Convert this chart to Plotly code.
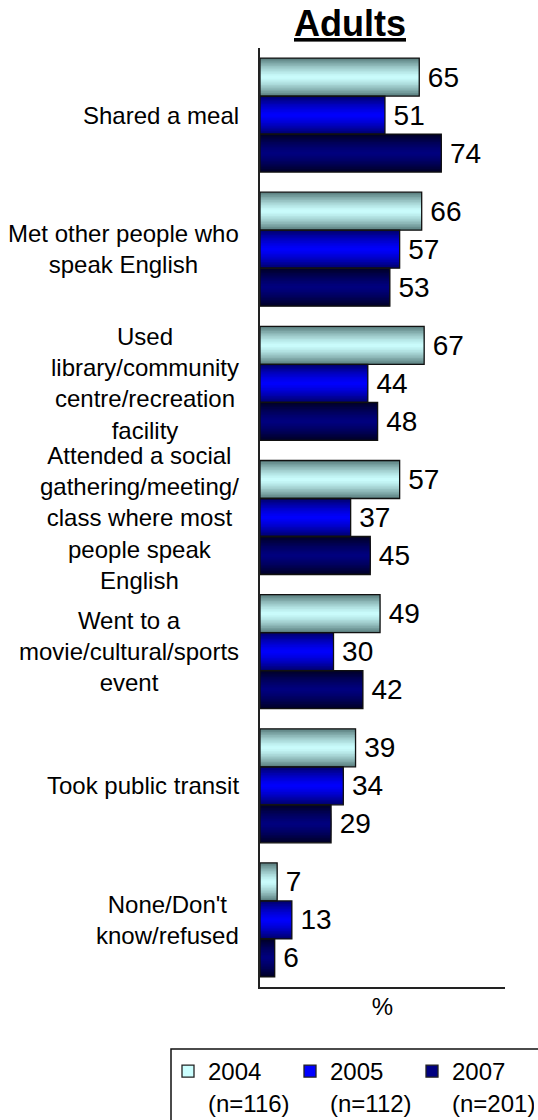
import plotly.graph_objects as go

# Survey responses (% of adults), three survey waves
categories = [
    "Shared a meal",
    "Met other people who<br>speak English",
    "Used<br>library/community<br>centre/recreation<br>facility",
    "Attended a social<br>gathering/meeting/<br>class where most<br>people speak<br>English",
    "Went to a<br>movie/cultural/sports<br>event",
    "Took public transit",
    "None/Don't<br>know/refused",
]
v2004 = [65, 66, 67, 57, 49, 39, 7]
v2005 = [51, 57, 44, 37, 30, 34, 13]
v2007 = [74, 53, 48, 45, 42, 29, 6]

series_names = ["2004<br>(n=116)", "2005<br>(n=112)", "2007<br>(n=201)"]
series_values = [v2004, v2005, v2007]

# (edge colour, centre colour) for the shaded bar look
shades = [
    ((92, 128, 128), (204, 255, 255)),
    ((0, 0, 112), (0, 0, 255)),
    ((0, 0, 40), (0, 0, 128)),
]

FONT = "Liberation Sans, Arial, sans-serif"
GROUP = 0.85              # share of a category slot used by the three bars
BAR_W = GROUP / 3
N_LAYERS = 12


def mix(c_edge, c_mid, t):
    t = t ** 1.4
    return "rgb({},{},{})".format(*[round(m + (e - m) * t) for e, m in zip(c_edge, c_mid)])


fig = go.Figure()

for s, (vals, (edge, mid)) in enumerate(zip(series_values, shades)):
    centre = -GROUP / 2 + BAR_W * (s + 0.5)
    for k in range(N_LAYERS):
        frac = 1 - k / N_LAYERS
        w = BAR_W * frac
        fig.add_trace(go.Bar(
            x=vals, y=categories, orientation="h",
            width=w, offset=centre - w / 2,
            marker=dict(color=mix(edge, mid, frac), line=dict(width=0)),
            showlegend=False, hoverinfo="skip",
        ))

# outlines + value labels on top of the shading
for s, vals in enumerate(series_values):
    centre = -GROUP / 2 + BAR_W * (s + 0.5)
    fig.add_trace(go.Bar(
        x=vals, y=categories, orientation="h",
        width=BAR_W, offset=centre - BAR_W / 2,
        marker=dict(color="rgba(0,0,0,0)", line=dict(color="#111111", width=1.3)),
        text=vals, texttemplate="\u2009%{x}", textposition="outside",
        textfont=dict(family=FONT, size=28, color="#000000"),
        constraintext="none", cliponaxis=False,
        showlegend=False, hoverinfo="skip",
    ))

# legend entries
for name, (edge, mid) in zip(series_names, shades):
    fig.add_trace(go.Bar(
        x=[None], y=[None], orientation="h", name=name,
        marker=dict(color="rgb({},{},{})".format(*mid), line=dict(color="#222222", width=1.3)),
        showlegend=True,
    ))

# category labels, centred block to the left of the axis
for cat in categories:
    fig.add_annotation(
        x=0, xref="paper", y=cat, yref="y", text=cat,
        xanchor="right", yanchor="middle", align="center", xshift=-19,
        showarrow=False, font=dict(family=FONT, size=24, color="#000000"),
    )

fig.add_annotation(
    x=(350 - 260) / 245, xref="paper", y=1, yref="paper", yanchor="bottom",
    text="<b><u>Adults</u></b>", showarrow=False, yshift=2,
    font=dict(family=FONT, size=36, color="#000000"),
)

# legend frame (runs off the page edge)
fig.add_shape(
    type="rect", xref="paper", yref="paper",
    x0=(171 - 260) / 245, x1=2.0, y0=-0.5, y1=(987 - 1049) / 939,
    line=dict(color="#111111", width=1.5), fillcolor="rgba(0,0,0,0)",
)

fig.update_layout(
    width=538, height=1120,
    margin=dict(l=260, r=33, t=48, b=133, autoexpand=False),
    paper_bgcolor="white", plot_bgcolor="white",
    barmode="overlay",
    showlegend=True,
    legend=dict(
        orientation="h", x=(168 - 260) / 245, xanchor="left",
        y=(987 - 1049) / 939, yanchor="top",
        font=dict(family=FONT, size=24, color="#000000"),
        valign="top", itemwidth=30, entrywidth=77, entrywidthmode="pixels",
        bgcolor="rgba(0,0,0,0)", borderwidth=0, traceorder="normal",
    ),
    xaxis=dict(
        range=[0, 100], showticklabels=False, ticks="", showgrid=False,
        zeroline=False, showline=True, linecolor="#222222", linewidth=2,
        title=dict(text="%", font=dict(family=FONT, size=24, color="#000000"), standoff=10),
        fixedrange=True,
    ),
    yaxis=dict(
        type="category", categoryorder="array", categoryarray=categories,
        range=[6.5, -0.5], showticklabels=False, ticks="", showgrid=False,
        zeroline=False, showline=True, linecolor="#222222", linewidth=2,
        fixedrange=True,
    ),
    font=dict(family=FONT),
)

fig.write_html("out.html")
